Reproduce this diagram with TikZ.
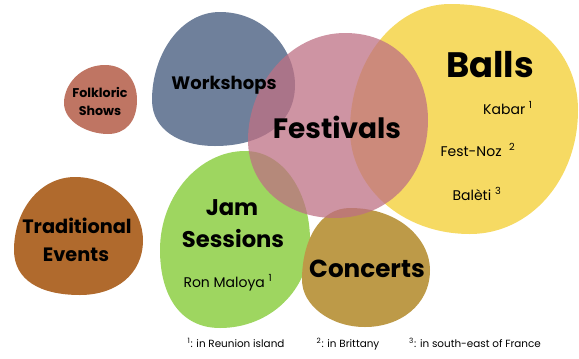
\documentclass[tikz,border=0pt]{standalone}
\usepackage{fontspec}
\setmainfont{Poppins}
\usepackage{tikz}

\definecolor{cFolk}{RGB}{191,117,99}
\definecolor{cWork}{RGB}{111,128,155}
\definecolor{cFest}{RGB}{190,112,132}
\definecolor{cBall}{RGB}{246,218,99}
\definecolor{cJam}{RGB}{158,214,96}
\definecolor{cConc}{RGB}{189,154,72}
\definecolor{cTrad}{RGB}{176,106,45}

\begin{document}
\begin{tikzpicture}[x=0.75pt,y=0.75pt,yscale=-1,
  blob/.style={draw=none},
  title/.style={anchor=base,inner sep=0pt,font=\bfseries\fontsize{#1}{#1}\selectfont},
  item/.style={anchor=base,inner sep=0pt,font=\fontsize{10.5}{12}\selectfont},
  note/.style={anchor=base,inner sep=0pt,font=\fontsize{7.8}{9}\selectfont}]
\useasboundingbox (0,0) rectangle (579,358);

%Shape: Blob [id:folkloric]
\fill [cFolk]  (105,65) .. controls (125,65) and (137,80) .. (137,100) .. controls (137,122) and (125,134) .. (108,134) .. controls (88,134) and (64,122) .. (64,103) .. controls (64,85) and (80,65) .. (105,65) -- cycle ;
%Shape: Blob [id:workshops]
\fill [cWork]  (220,12) .. controls (265,12) and (295,50) .. (295,85) .. controls (295,125) and (260,146) .. (215,146) .. controls (180,146) and (152,130) .. (152,100) .. controls (152,55) and (180,12) .. (220,12) -- cycle ;
%Shape: Blob [id:balls]
\fill [cBall]  (450,4) .. controls (530,4) and (578,50) .. (578,110) .. controls (578,180) and (530,234) .. (470,234) .. controls (400,234) and (350,185) .. (350,130) .. controls (350,60) and (395,4) .. (450,4) -- cycle ;
%Shape: Blob [id:jam]
\fill [cJam]  (245,151) .. controls (285,151) and (310,195) .. (310,240) .. controls (310,290) and (270,328) .. (220,328) .. controls (180,328) and (160,295) .. (160,250) .. controls (160,195) and (200,151) .. (245,151) -- cycle ;
%Shape: Blob [id:concerts]
\fill [cConc]  (350,208) .. controls (400,208) and (430,240) .. (430,270) .. controls (430,305) and (400,327) .. (365,327) .. controls (330,327) and (302,305) .. (302,280) .. controls (302,240) and (320,208) .. (350,208) -- cycle ;
%Shape: Blob [id:traditional]
\fill [cTrad]  (75,177) .. controls (115,177) and (143,210) .. (143,240) .. controls (143,275) and (115,295) .. (80,295) .. controls (40,295) and (14,280) .. (14,250) .. controls (14,210) and (40,177) .. (75,177) -- cycle ;
%Shape: Blob [id:festivals]
\fill [cFest,fill opacity=0.75]  (345,33) .. controls (400,33) and (428,75) .. (428,120) .. controls (428,175) and (390,218) .. (335,218) .. controls (285,218) and (248,185) .. (248,140) .. controls (248,85) and (290,33) .. (345,33) -- cycle ;

% Text Node
\draw (100,97) node [title=9.5] (folk1) {Folkloric};
% Text Node
\draw (100,115) node [title=9.5] (folk2) {Shows};
% Text Node
\draw (224,89) node [title=13.5] (work) {Workshops};
% Text Node
\draw (337,138) node [title=21] (fest) {Festivals};
% Text Node
\draw (490,77) node [title=26.5] (balls) {Balls};
% Text Node
\draw (508,114) node [item] (kabar) {Kabar \textsuperscript{1}};
% Text Node
\draw (478,156) node [item] (festnoz) {Fest-Noz\ \ \textsuperscript{2}};
% Text Node
\draw (477,200) node [item] (baleti) {Balèti \textsuperscript{3}};
% Text Node
\draw (232,215) node [title=17] (jam1) {Jam};
% Text Node
\draw (233,247) node [title=17] (jam2) {Sessions};
% Text Node
\draw (228,287) node [item] (ron) {Ron Maloya \textsuperscript{1}};
% Text Node
\draw (77,233) node [title=14.5] (trad1) {Traditional};
% Text Node
\draw (76,261) node [title=14.5] (trad2) {Events};
% Text Node
\draw (367,277) node [title=18.5] (conc) {Concerts};
% Text Node
\draw (236,347) node [note] (note1) {\textsuperscript{1}: in Reunion island};
% Text Node
\draw (348,347) node [note] (note2) {\textsuperscript{2}: in Brittany};
% Text Node
\draw (475,347) node [note] (note3) {\textsuperscript{3}: in south-east of France};

\end{tikzpicture}
\end{document}
